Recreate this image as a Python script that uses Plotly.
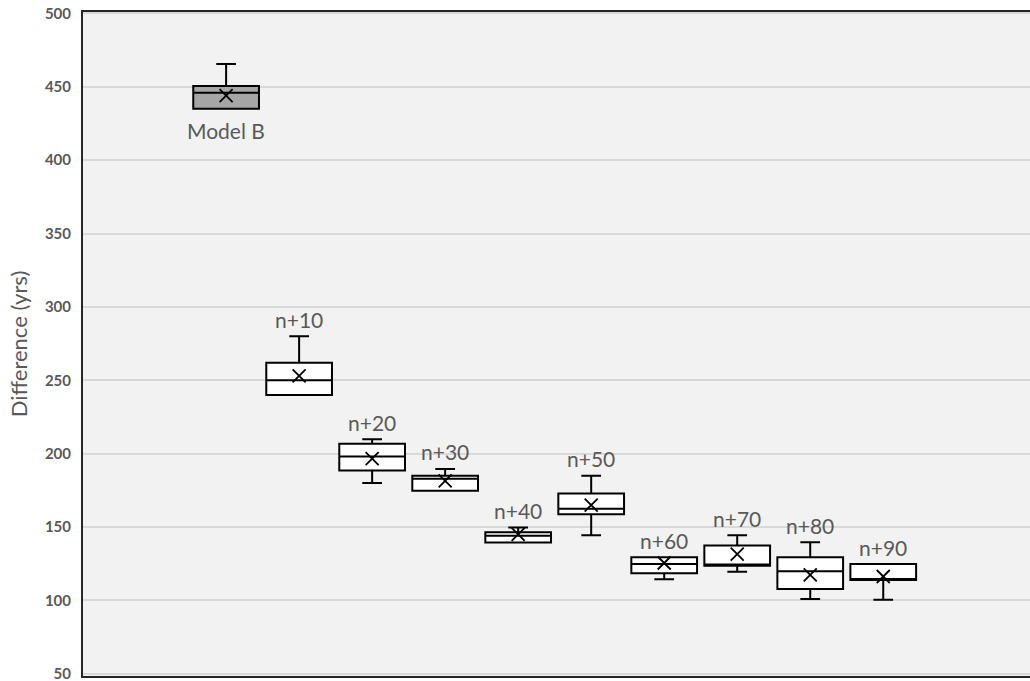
import plotly.graph_objects as go

labels = ["Model B", "n+10", "n+20", "n+30", "n+40", "n+50", "n+60", "n+70", "n+80", "n+90"]
positions = [2, 3, 4, 5, 6, 7, 8, 9, 10, 11]
mins = [435, 240, 180, 175, 139.5, 144.5, 114.5, 119.5, 101, 100.5]
q1s = [435, 240, 188.5, 174.7, 139.5, 158.8, 118.6, 123.6, 107.8, 114]
medians = [446, 250, 198, 183, 144, 162.4, 124.8, 124.5, 119.8, 114.5]
q3s = [450.5, 262, 206.7, 184.9, 146.5, 172.8, 129.5, 137.5, 129.4, 124.8]
maxs = [465.5, 280, 209.8, 189.6, 149.7, 184.9, 129.5, 144.5, 139.6, 124.8]
means = [444, 253, 196.6, 181.5, 145, 165, 125.5, 131.6, 117.4, 116.3]
fills = ["#a6a6a6"] + ["#ffffff"] * 9

label_color = "#595959"
font_family = "Lato, 'Open Sans', sans-serif"

fig = go.Figure()
for i in range(len(labels)):
    fig.add_trace(go.Box(
        x=[positions[i]],
        q1=[q1s[i]], median=[medians[i]], q3=[q3s[i]],
        lowerfence=[mins[i]], upperfence=[maxs[i]],
        fillcolor=fills[i],
        line=dict(color="#000000", width=2),
        width=0.9,
        whiskerwidth=0.3,
        showlegend=False,
        hoverinfo="skip",
    ))

fig.add_trace(go.Scatter(
    x=positions, y=means, mode="markers",
    marker=dict(symbol="x-thin", size=13, line=dict(color="#000000", width=1.8)),
    showlegend=False, hoverinfo="skip",
))

for i, lab in enumerate(labels):
    if i == 0:
        fig.add_annotation(x=positions[i], y=mins[i], text=lab, showarrow=False,
                           yanchor="middle", yshift=-22,
                           font=dict(size=21, color=label_color, family=font_family))
    else:
        fig.add_annotation(x=positions[i], y=maxs[i], text=lab, showarrow=False,
                           yanchor="middle", yshift=17,
                           font=dict(size=21, color=label_color, family=font_family))

fig.update_layout(
    width=1030, height=681,
    margin=dict(l=83, r=0, t=12, b=5),
    paper_bgcolor="#ffffff",
    plot_bgcolor="#f2f2f2",
    font=dict(family=font_family),
)
fig.update_xaxes(
    range=[0.04, 13.01], showticklabels=False, showgrid=False, zeroline=False,
    showline=True, linecolor="#262626", linewidth=2, mirror=True,
)
fig.update_yaxes(
    range=[48.5, 501], tickvals=[50, 100, 150, 200, 250, 300, 350, 400, 450, 500],
    showgrid=True, gridcolor="#d9d9d9", gridwidth=1.5, zeroline=False,
    showline=True, linecolor="#262626", linewidth=2, mirror=False,
    ticks="", ticklabelstandoff=7, ticklabeloverflow="allow",
    tickfont=dict(size=15, color=label_color, family=font_family, weight="bold"),
    title=dict(text="Difference (yrs)", font=dict(size=22, color=label_color, family=font_family), standoff=11),
)

fig.write_html(
    "out.html",
    config={"displayModeBar": False},
    post_script="document.body.style.margin='0';document.body.style.padding='0';document.body.style.overflow='hidden';",
)
